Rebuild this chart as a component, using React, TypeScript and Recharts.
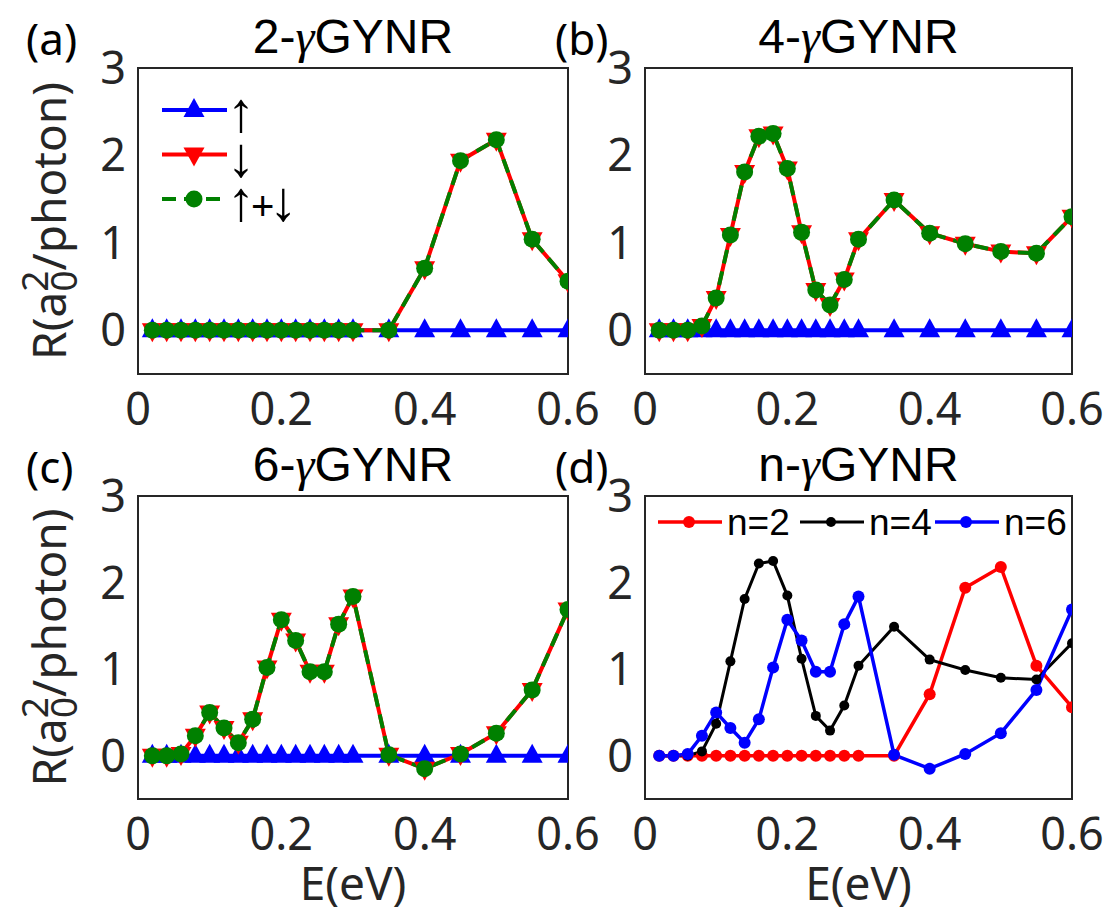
import React from 'react';
import { LineChart, Line, XAxis, YAxis, Legend } from 'recharts';

const W = 1106;
const H = 914;

// ---------------- data ----------------
const energies = [0.02, 0.04, 0.06, 0.08, 0.10, 0.12, 0.14, 0.16, 0.18, 0.20, 0.22, 0.24, 0.26, 0.28, 0.30, 0.35, 0.40, 0.45, 0.50, 0.55, 0.60];

const up2 = [0, 0, 0, 0, 0, 0, 0, 0, 0, 0, 0, 0, 0, 0, 0, 0, 0, 0, 0, 0, 0];
const down2 = [0, 0, 0, 0, 0, 0, 0, 0, 0, 0, 0, 0, 0, 0, 0, 0, 0.71, 1.94, 2.18, 1.04, 0.56];
const total2 = [0, 0, 0, 0, 0, 0, 0, 0, 0, 0, 0, 0, 0, 0, 0, 0, 0.71, 1.94, 2.18, 1.04, 0.56];

const up4 = [0, 0, 0, 0, 0, 0, 0, 0, 0, 0, 0, 0, 0, 0, 0, 0, 0, 0, 0, 0, 0];
const down4 = [0, 0, 0, 0.05, 0.37, 1.09, 1.81, 2.22, 2.25, 1.85, 1.12, 0.46, 0.29, 0.58, 1.04, 1.49, 1.11, 0.99, 0.90, 0.88, 1.30];
const total4 = [0, 0, 0, 0.05, 0.37, 1.09, 1.81, 2.22, 2.25, 1.85, 1.12, 0.46, 0.29, 0.58, 1.04, 1.49, 1.11, 0.99, 0.90, 0.88, 1.30];

const up6 = [0, 0, 0, 0, 0, 0, 0, 0, 0, 0, 0, 0, 0, 0, 0, 0, 0, 0, 0, 0, 0];
const down6 = [0, 0, 0.02, 0.23, 0.50, 0.32, 0.15, 0.42, 1.02, 1.57, 1.33, 0.97, 0.97, 1.52, 1.84, 0.01, -0.15, 0.02, 0.26, 0.76, 1.69];
const total6 = [0, 0, 0.02, 0.23, 0.50, 0.32, 0.15, 0.42, 1.02, 1.57, 1.33, 0.97, 0.97, 1.52, 1.84, 0.01, -0.15, 0.02, 0.26, 0.76, 1.69];

const xTicks = [0, 0.2, 0.4, 0.6];
const yTicks = [0, 1, 2, 3];
const innerXTicks = [0.2, 0.4];
const innerYTicks = [0, 1, 2];
const xDomain = [0, 0.6];
const yDomain = [-0.5, 3];

const titlePrefixes = ['2-', '4-', '6-', 'n-'];
const titleSuffix = 'GYNR';
const panelTags = ['(a)', '(b)', '(c)', '(d)'];
const spinKeys = ['up', 'down', 'total'];
const spinNames = ['↑', '↓', '↑+↓'];
const nKeys = ['n2', 'n4', 'n6'];
const nNames = ['n=2', 'n=4', 'n=6'];
const xLabel = 'E(eV)';

// ---------------- layout / style ----------------
const PANELS = [
  { left: 138, right: 568, top: 68, bottom: 374 },
  { left: 645, right: 1072, top: 68, bottom: 374 },
  { left: 138, right: 568, top: 496, bottom: 799 },
  { left: 645, right: 1072, top: 496, bottom: 799 },
];

const AX = '#262626';
const BLUE = '#0000ff';
const RED = '#ff0000';
const GREEN = '#008000';
const BLACK = '#000000';
const DASH = '14 8';

// main axes are 1px thick (Recharts skips axes of size 0), so subtract it from the margins
const marginOf = (p: any) => ({ left: p.left - 1, right: W - p.right, top: p.top, bottom: H - p.bottom - 1 });
const fmtX = (v: number) => (v === 0 ? '0' : String(Math.round(v * 10) / 10));

const axisLineStyle = { stroke: AX, strokeWidth: 2, strokeLinecap: 'square' as const };
const tickLineStyle = { stroke: AX, strokeWidth: 2 };
const tickFont = { fontSize: 45, fontFamily: 'Noto Sans', fill: AX };

function frameAxes() {
  return [
    <XAxis key="xb" xAxisId="b" dataKey="E" type="number" domain={xDomain} ticks={xTicks} orientation="bottom"
      height={1} tickLine={false} tickSize={0} tickMargin={19} axisLine={axisLineStyle} tick={tickFont}
      tickFormatter={fmtX} interval={0} allowDataOverflow />,
    <XAxis key="xbm" xAxisId="bm" type="number" domain={xDomain} ticks={innerXTicks} orientation="bottom" mirror
      height={1} tick={false} tickSize={6} axisLine={false} tickLine={tickLineStyle} interval={0} allowDataOverflow />,
    <XAxis key="xt" xAxisId="t" type="number" domain={xDomain} ticks={innerXTicks} orientation="top" mirror
      height={1} tick={false} tickSize={6} axisLine={axisLineStyle} tickLine={tickLineStyle} interval={0} allowDataOverflow />,
    <YAxis key="yl" yAxisId="l" type="number" domain={yDomain} ticks={yTicks} orientation="left"
      width={1} tickLine={false} tickSize={0} tickMargin={12} axisLine={axisLineStyle} tick={tickFont}
      interval={0} allowDataOverflow />,
    <YAxis key="ylm" yAxisId="lm" type="number" domain={yDomain} ticks={innerYTicks} orientation="left" mirror
      width={1} tick={false} tickSize={6} axisLine={false} tickLine={tickLineStyle} interval={0} allowDataOverflow />,
    <YAxis key="yr" yAxisId="r" type="number" domain={yDomain} ticks={innerYTicks} orientation="right" mirror
      width={1} tick={false} tickSize={6} axisLine={axisLineStyle} tickLine={tickLineStyle} interval={0} allowDataOverflow />,
  ];
}

// ---------------- markers ----------------
const upTriPath = (cx: number, cy: number) => `M${cx},${cy - 12} L${cx + 10.5},${cy + 7} L${cx - 10.5},${cy + 7} Z`;
const downTriPath = (cx: number, cy: number) => `M${cx},${cy + 12} L${cx + 10.5},${cy - 7} L${cx - 10.5},${cy - 7} Z`;

const upTriDot = (props: any) => {
  const { cx, cy, index } = props;
  if (cx == null || cy == null) return <g key={`u${index}`} />;
  return <path key={`u${index}`} d={upTriPath(cx, cy)} fill={BLUE} />;
};
const downTriDot = (props: any) => {
  const { cx, cy, index } = props;
  if (cx == null || cy == null) return <g key={`d${index}`} />;
  return <path key={`d${index}`} d={downTriPath(cx, cy)} fill={RED} />;
};
const circleDot = (color: string, r: number) => (props: any) => {
  const { cx, cy, index } = props;
  if (cx == null || cy == null) return <g key={`c${index}`} />;
  return <circle key={`c${index}`} cx={cx} cy={cy} r={r} fill={color} />;
};

const findEntry = (payload: any[], key: string) => (payload || []).find((e: any) => e.dataKey === key);

// ---------------- legends ----------------
const ARROW_FONT = 'Liberation Serif';
const SpinLegend = (props: any) => {
  const payload = props.payload || [];
  return (
    <svg width={180} height={135} style={{ overflow: 'visible', display: 'block' }}>
      {spinKeys.map((key, i) => {
        const entry = findEntry(payload, key);
        if (!entry) return null;
        const y = 20 + i * 44.5;
        const color = entry.color;
        const mx = 39;
        let marker = null;
        if (i === 0) marker = <path d={upTriPath(mx, y)} fill={color} />;
        else if (i === 1) marker = <path d={downTriPath(mx, y)} fill={color} />;
        else marker = <circle cx={mx} cy={y} r={8.5} fill={color} />;
        const name = String(entry.value);
        const parts = name.split('+');
        return (
          <g key={key}>
            <line x1={7} x2={72} y1={y} y2={y} stroke={color} strokeWidth={4}
              strokeDasharray={i === 2 ? DASH : undefined} />
            {marker}
            <text x={72} y={y + 21} fontFamily={ARROW_FONT} fontSize={56} fill="#000">
              {parts.length === 1 ? name : (
                <>
                  {parts[0]}
                  <tspan fontFamily="Liberation Sans" fontSize={40} dx={-4}>+</tspan>
                  <tspan dx={-5}>{parts[1]}</tspan>
                </>
              )}
            </text>
          </g>
        );
      })}
    </svg>
  );
};

const nLegendX = [8, 150, 285];
const NLegend = (props: any) => {
  const payload = props.payload || [];
  return (
    <svg width={420} height={45} style={{ overflow: 'visible', display: 'block' }}>
      {nKeys.map((key, i) => {
        const entry = findEntry(payload, key);
        if (!entry) return null;
        const x0 = nLegendX[i];
        const y = 22;
        const color = entry.color;
        return (
          <g key={key}>
            <line x1={x0} x2={x0 + 64} y1={y} y2={y} stroke={color} strokeWidth={i === 1 ? 3 : 3.5} />
            <circle cx={x0 + 31} cy={y} r={i === 1 ? 5 : 6} fill={color} />
            <text x={x0 + 69} y={y + 13} fontFamily="Liberation Sans" fontSize={37} fill="#000">{entry.value}</text>
          </g>
        );
      })}
    </svg>
  );
};

// ---------------- panels ----------------
function SpinPanel({ idx, up, down, total }: any) {
  const p = PANELS[idx];
  const data = energies.map((e, i) => ({ E: e, up: up[i], down: down[i], total: total[i] }));
  return (
    <div style={{ position: 'absolute', left: 0, top: 0 }}>
      <LineChart width={W} height={H} data={data} margin={marginOf(p)}>
        {frameAxes()}
        <Line xAxisId="b" yAxisId="l" type="linear" dataKey="up" name={spinNames[0]} stroke={BLUE} strokeWidth={4}
          dot={upTriDot} activeDot={false} isAnimationActive={false} />
        <Line xAxisId="b" yAxisId="l" type="linear" dataKey="down" name={spinNames[1]} stroke={RED} strokeWidth={4}
          dot={downTriDot} activeDot={false} isAnimationActive={false} />
        <Line xAxisId="b" yAxisId="l" type="linear" dataKey="total" name={spinNames[2]} stroke={GREEN} strokeWidth={4}
          strokeDasharray={DASH} dot={circleDot(GREEN, 8.5)} activeDot={false} isAnimationActive={false} />
        {idx === 0 && (
          <Legend layout="vertical" align="center" verticalAlign="middle"
            wrapperStyle={{ left: 155, top: 90, width: 180, height: 135 }}
            content={(lp: any) => <SpinLegend {...lp} />} />
        )}
      </LineChart>
    </div>
  );
}

function CompPanel() {
  const p = PANELS[3];
  const data = energies.map((e, i) => ({ E: e, n2: total2[i], n4: total4[i], n6: total6[i] }));
  return (
    <div style={{ position: 'absolute', left: 0, top: 0 }}>
      <LineChart width={W} height={H} data={data} margin={marginOf(p)}>
        {frameAxes()}
        <Line xAxisId="b" yAxisId="l" type="linear" dataKey="n2" name={nNames[0]} stroke={RED} strokeWidth={3.5}
          dot={circleDot(RED, 6)} activeDot={false} isAnimationActive={false} />
        <Line xAxisId="b" yAxisId="l" type="linear" dataKey="n4" name={nNames[1]} stroke={BLACK} strokeWidth={3}
          dot={circleDot(BLACK, 5)} activeDot={false} isAnimationActive={false} />
        <Line xAxisId="b" yAxisId="l" type="linear" dataKey="n6" name={nNames[2]} stroke={BLUE} strokeWidth={3.5}
          dot={circleDot(BLUE, 6)} activeDot={false} isAnimationActive={false} />
        <Legend layout="vertical" align="center" verticalAlign="middle"
          wrapperStyle={{ left: 650, top: 500, width: 420, height: 45 }}
          content={(lp: any) => <NLegend {...lp} />} />
      </LineChart>
    </div>
  );
}

function Annotations() {
  return (
    <svg width={W} height={H} style={{ position: 'absolute', left: 0, top: 0, pointerEvents: 'none' }}>
      {PANELS.map((p, i) => {
        const cx = (p.left + p.right) / 2;
        const titleBase = p.top - 15;
        return (
          <g key={i}>
            <text x={cx} y={titleBase} textAnchor="middle" fontFamily="Liberation Sans" fontSize={48} fill="#000">
              {titlePrefixes[i]}
              <tspan fontFamily="Liberation Serif" fontStyle="italic">γ</tspan>
              {titleSuffix}
            </text>
            <text x={i % 2 === 0 ? 26 : 555} y={p.top - 13} fontFamily="Noto Sans" fontSize={44} fill="#000">
              {panelTags[i]}
            </text>
          </g>
        );
      })}
      {[0, 2].map((i) => {
        const p = PANELS[i];
        const cy = (p.top + p.bottom) / 2;
        return (
          <text key={`yl${i}`} x={66} y={cy} transform={`rotate(-90 66 ${cy})`} textAnchor="middle"
            fontFamily="Noto Sans" fontSize={46} fill={AX}>
            R(a
            <tspan fontSize={37} dy={-18}>2</tspan>
            <tspan fontSize={37} dx={-21} dy={29}>0</tspan>
            <tspan dy={-11}>/photon)</tspan>
          </text>
        );
      })}
      {[2, 3].map((i) => {
        const p = PANELS[i];
        const cx = (p.left + p.right) / 2;
        return (
          <text key={`xl${i}`} x={cx} y={900} textAnchor="middle" fontFamily="Noto Sans" fontSize={46} fill={AX}>
            {xLabel}
          </text>
        );
      })}
    </svg>
  );
}

export default function App() {
  return (
    <div style={{ position: 'absolute', left: 0, top: 0, width: W, height: H, background: '#fff', overflow: 'hidden' }}>
      <SpinPanel idx={0} up={up2} down={down2} total={total2} />
      <SpinPanel idx={1} up={up4} down={down4} total={total4} />
      <SpinPanel idx={2} up={up6} down={down6} total={total6} />
      <CompPanel />
      <Annotations />
    </div>
  );
}
